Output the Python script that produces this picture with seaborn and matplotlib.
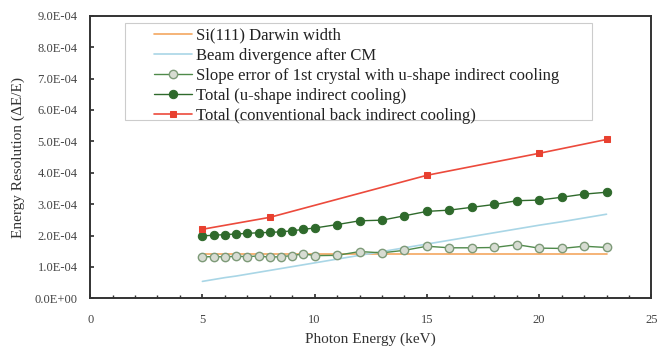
import pandas as pd
import numpy as np
import matplotlib
matplotlib.use("Agg")
import matplotlib.pyplot as plt
import seaborn as sns
from matplotlib.patches import Rectangle
from matplotlib.ticker import FuncFormatter, MultipleLocator

# photon energies (keV) of the computed points
energy = [5, 5.5, 6, 6.5, 7, 7.5, 8, 8.5, 9, 9.5, 10,
          11, 12, 13, 14, 15, 16, 17, 18, 19, 20, 21, 22, 23]

# values in units of 1e-4
darwin = [1.40] * len(energy)
beam_div = [0.54, 0.60, 0.66, 0.71, 0.77, 0.83, 0.89, 0.95, 1.01, 1.07, 1.13,
            1.25, 1.37, 1.49, 1.61, 1.73, 1.85, 1.97, 2.09, 2.21, 2.33, 2.44, 2.56, 2.68]
slope_err = [1.32, 1.33, 1.32, 1.34, 1.33, 1.35, 1.31, 1.33, 1.36, 1.42, 1.36,
             1.37, 1.49, 1.45, 1.53, 1.66, 1.61, 1.61, 1.62, 1.71, 1.60, 1.59, 1.66, 1.62]
total_u = [1.99, 2.01, 2.03, 2.05, 2.07, 2.09, 2.10, 2.12, 2.15, 2.20, 2.24,
           2.35, 2.47, 2.49, 2.63, 2.77, 2.81, 2.90, 2.99, 3.11, 3.13, 3.22, 3.32, 3.38]

energy_conv = [5, 8, 15, 20, 23]
total_conv = [2.20, 2.58, 3.92, 4.62, 5.06]

labels = ["Si(111) Darwin width",
          "Beam divergence after CM",
          "Slope error of 1st crystal with u-shape indirect cooling",
          "Total (u-shape indirect cooling)",
          "Total (conventional back indirect cooling)"]

df = pd.DataFrame({"E": energy,
                   "darwin": np.array(darwin) * 1e-4,
                   "beam": np.array(beam_div) * 1e-4,
                   "slope": np.array(slope_err) * 1e-4,
                   "total_u": np.array(total_u) * 1e-4})
df_conv = pd.DataFrame({"E": energy_conv, "total": np.array(total_conv) * 1e-4})

sns.set_theme(style="ticks")
plt.rcParams["font.family"] = ["Liberation Serif", "DejaVu Serif"]

fig, ax = plt.subplots(figsize=(6.58, 3.51), dpi=100)
fig.subplots_adjust(left=0.137, right=0.99, top=0.955, bottom=0.15)

sns.lineplot(data=df, x="E", y="darwin", ax=ax, color="#f4a760", lw=1.2, label=labels[0])
sns.lineplot(data=df, x="E", y="beam", ax=ax, color="#a9d6e6", lw=1.2, label=labels[1])
sns.lineplot(data=df, x="E", y="slope", ax=ax, color="#4f8a4a", lw=1.0, marker="o",
             markersize=6, markerfacecolor="#d7dcd2", markeredgecolor="#7d9a78",
             markeredgewidth=1.0, label=labels[2])
sns.lineplot(data=df, x="E", y="total_u", ax=ax, color="#2f6a2c", lw=1.0, marker="o",
             markersize=6, markerfacecolor="#2f6a2c", markeredgecolor="#2f6a2c",
             label=labels[3])
sns.lineplot(data=df_conv, x="E", y="total", ax=ax, color="#ec4a3c", lw=1.2, marker="s",
             markersize=5, markerfacecolor="#e8402f", markeredgecolor="#e8402f",
             label=labels[4])

ax.set_xlim(0, 25)
ax.set_ylim(0, 9e-4)
ax.xaxis.set_major_locator(MultipleLocator(5))
ax.xaxis.set_minor_locator(MultipleLocator(1))
ax.yaxis.set_major_locator(MultipleLocator(1e-4))
ax.yaxis.set_major_formatter(FuncFormatter(lambda v, p: f"{v:.1E}"))
ax.tick_params(axis="both", which="both", direction="in", labelsize=9, color="#333333",
               labelcolor="#444444")
ax.tick_params(axis="x", which="major", length=3, pad=11)
ax.tick_params(axis="x", which="minor", length=2)
ax.tick_params(axis="y", which="major", length=3, pad=9)
for s in ax.spines.values():
    s.set_linewidth(1.4)
    s.set_color("#333333")

ax.set_xlabel("Photon Energy (keV)", fontsize=11, labelpad=5, color="#333333")
ax.set_ylabel("Energy Resolution (ΔE/E)", fontsize=11, labelpad=7, color="#333333")

# legend without its own frame; a wider box is drawn behind it like the original
leg = ax.legend(loc="upper left", bbox_to_anchor=(0.110, 0.965), fontsize=12,
                handlelength=2.3, handletextpad=0.25, labelspacing=0.25,
                frameon=False, borderpad=0.1, borderaxespad=0)
leg.set_zorder(6)
for t in leg.get_texts():
    t.set_color("#222222")
ax.add_patch(Rectangle((0.062, 0.631), 0.833, 0.344, transform=ax.transAxes,
                       facecolor="white", edgecolor="#cccccc", lw=0.8, zorder=5))

fig.savefig("out.png", dpi=100)
